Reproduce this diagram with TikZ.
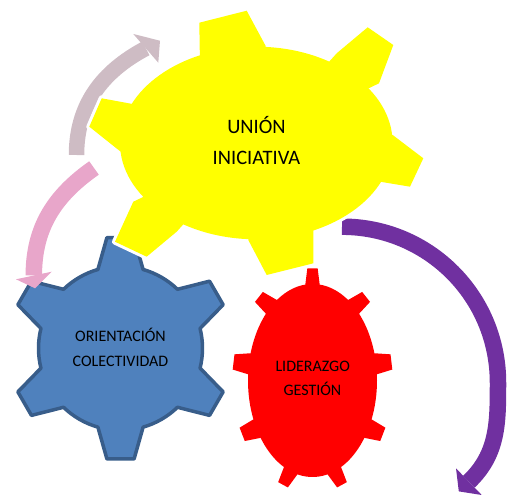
\documentclass[tikz,border=0pt]{standalone}
\usepackage{fontspec}
\setmainfont{Carlito}
\definecolor{gyellow}{RGB}{255,255,0}
\definecolor{gred}{RGB}{255,0,0}
\definecolor{gblue}{RGB}{79,129,189}
\definecolor{gbluedark}{RGB}{56,93,138}
\definecolor{agray}{RGB}{206,188,196}
\definecolor{apink}{RGB}{232,166,202}
\definecolor{apurple}{RGB}{112,48,160}
\tikzset{
  halo/.style={fill=white, draw=white, line width=6pt, line join=round},
  yel/.style={fill=gyellow},
  shaft/.style={line width=#1},
  bigtxt/.style={font=\fontsize{20.5}{24}\selectfont, inner sep=0pt, anchor=base},
  smalltxt/.style={font=\fontsize{16}{19}\selectfont, inner sep=0pt, anchor=base}
}
\newcommand\yellowshape[1]{%
  \path[#1] (256.3,353) ellipse [x radius=136.3, y radius=96.3];
  \path[#1] (256.3,353) -- (200,431) -- (199.3,473.3) -- (246.7,485.3) -- (265.7,450) -- cycle;
  \path[#1] (256.3,353) -- (336.7,442.7) -- (367.7,468.7) -- (393.3,451) -- (379,412.7) -- cycle;
  \path[#1] (256.3,353) -- (392.7,361) -- (423.3,337.7) -- (410,309.3) -- (370,316) -- cycle;
  \path[#1] (256.3,353) -- (313.3,275.3) -- (313.3,232.7) -- (266.7,221) -- (248.3,256) -- cycle;
  \path[#1] (256.3,353) -- (176.7,264.3) -- (146.7,239.3) -- (115,254.3) -- (133.3,294.3) -- cycle;
  \path[#1] (256.3,353) -- (120.7,344.3) -- (89.3,369.3) -- (101.7,397.7) -- (143.3,390) -- cycle;
}
\begin{document}
\begin{tikzpicture}[x=1pt,y=1pt]
\useasboundingbox (0,0) rectangle (507,496);

% gray arrow
\coordinate (g0) at (76.5,341);
\coordinate (g1) at (145.8,447.6);
\draw[agray, shaft=15.5pt] (g0) to[out=90, in=208] (g1);
\fill[agray] (133.3,462) -- (160,455.3) -- (158.3,433.3) -- cycle;

% purple arrow
\coordinate (u0) at (342,269.3);
\coordinate (um) at (498,113.3);
\coordinate (u1) at (468.9,14.3);
\draw[apurple, shaft=16.5pt] (u0) to[out=0, in=90] (um) to[out=-90, in=43.8] (u1);
\fill[apurple] (456,27.7) -- (458.8,4.6) -- (481.7,1) -- cycle;

% blue gear
\begin{scope}[shift={(120.5,147.7)}]
\draw[fill=gblue, draw=gbluedark, line width=3.5pt, line join=round]
  (74:82) \foreach \a in {90,150,...,390} { -- (\a-7:111.5) -- (\a+7:111.5) -- (\a+16:82) arc[start angle=\a+16, end angle=\a+44, radius=82] } -- cycle;
\end{scope}

% pink arrow
\coordinate (p0) at (94,328);
\coordinate (p1) at (33.8,220.5);
\draw[apink, shaft=16.5pt] (p0) to[out=215, in=90] (p1);
\fill[apink] (16,216.7) -- (35,207.7) -- (51.7,224.3) -- cycle;

% red gear
\fill[gred] (312.5,115.5) ellipse [x radius=64.5, y radius=96.5];
\foreach \t in {90,50,...,-230} {
  \pgfmathsetmacro\px{312.5+64.5*cos(\t)}
  \pgfmathsetmacro\py{115.5+96.5*sin(\t)}
  \pgfmathsetmacro\ang{atan2(64.5*sin(\t), 96.5*cos(\t))}
  \pgfmathsetmacro\tl{sqrt((64.5*sin(\t))^2+(96.5*cos(\t))^2)}
  \pgfmathsetmacro\wt{0.08*\tl}
  \pgfmathsetmacro\wb{0.11*\tl}
  \fill[gred, shift={(\px,\py)}, rotate=\ang] (-5,-\wb) -- (0,-\wb) -- (15.5,-\wt) -- (15.5,\wt) -- (0,\wb) -- (-5,\wb) -- cycle;
}

% yellow gear
\yellowshape{halo}
\yellowshape{yel}

% texts
\node[bigtxt] (y1) at (256.5,362.7) {UNIÓN};
\node[bigtxt] (y2) at (256.5,331) {INICIATIVA};
\node[smalltxt] (b1) at (120.5,154.3) {ORIENTACIÓN};
\node[smalltxt] (b2) at (120.5,129.3) {COLECTIVIDAD};
\node[smalltxt] (r1) at (312.7,124.3) {LIDERAZGO};
\node[smalltxt] (r2) at (312.4,100) {GESTIÓN};
\end{tikzpicture}
\end{document}
